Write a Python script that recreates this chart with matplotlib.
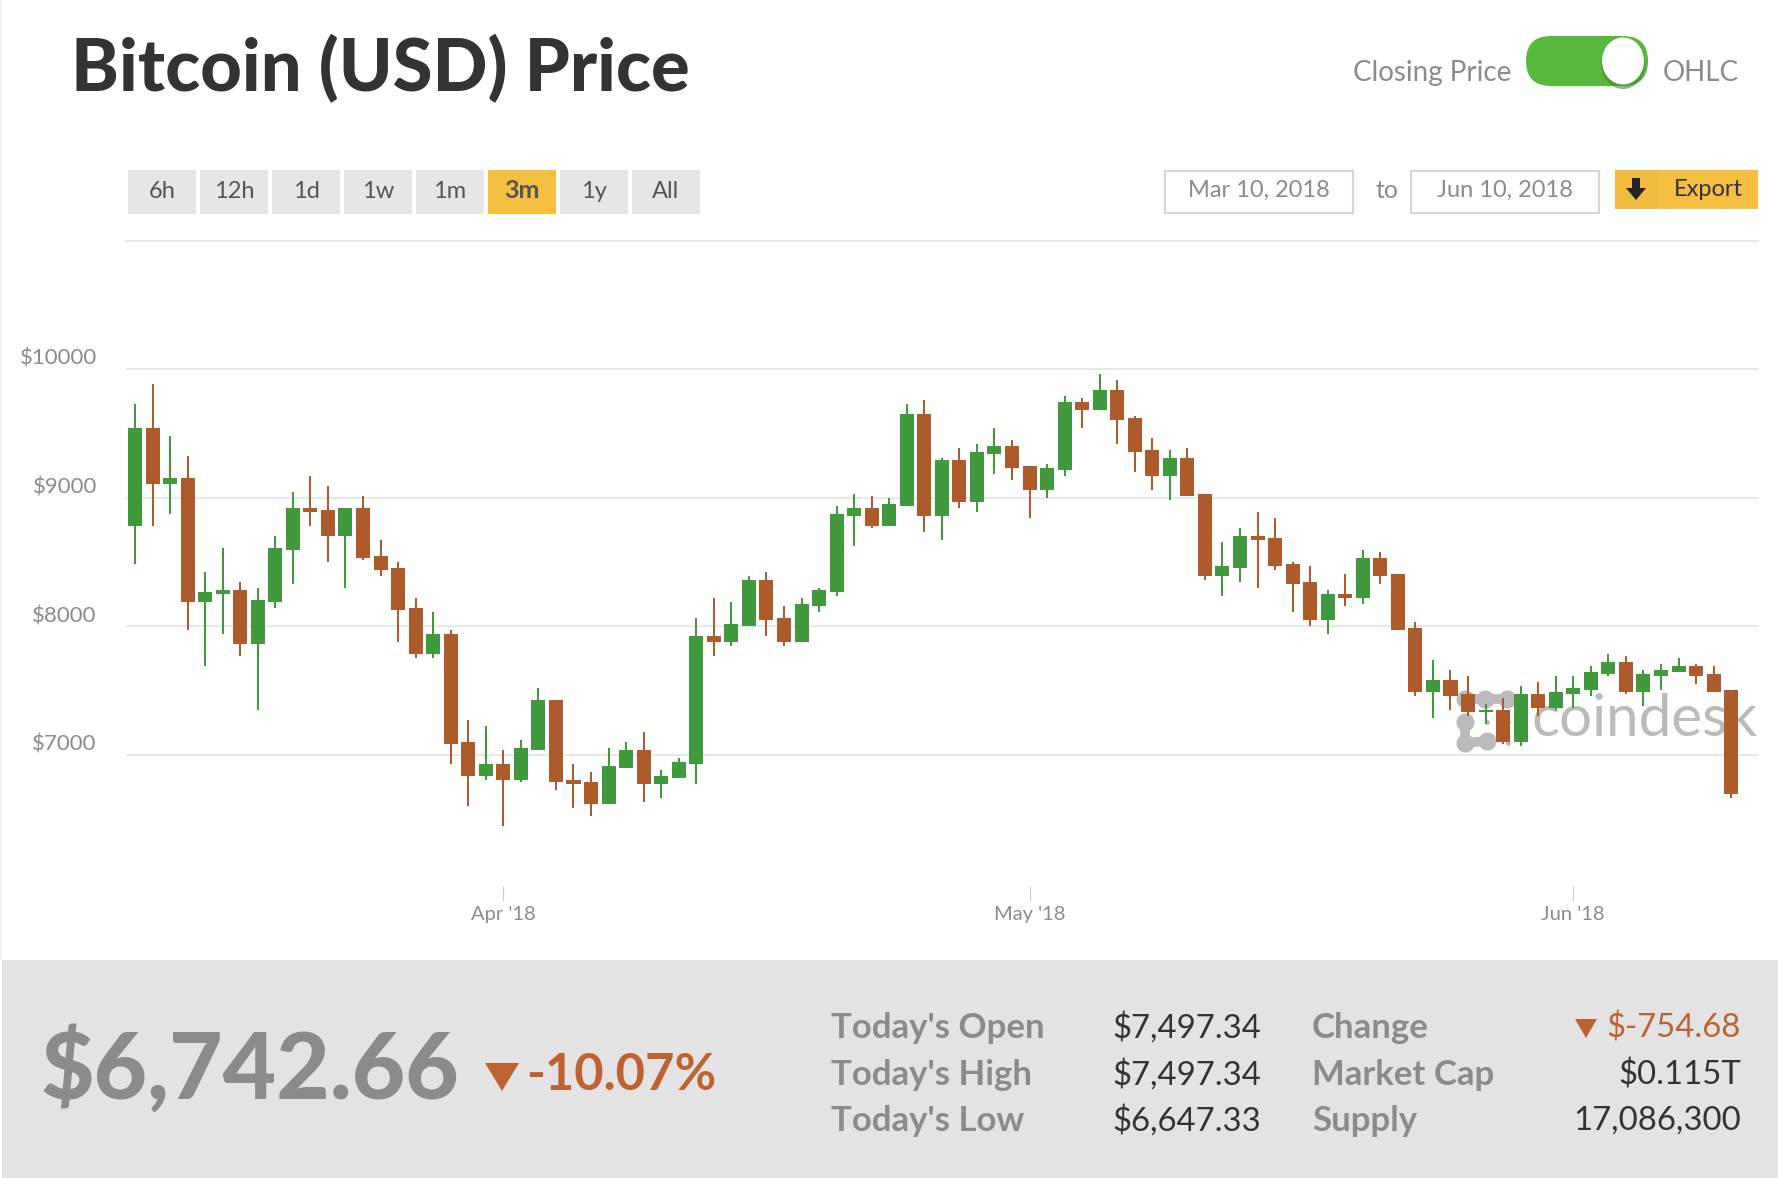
#! /usr/bin/python3

import matplotlib
matplotlib.use("Agg")
import matplotlib.pyplot as plt
import matplotlib.dates as mdates
import matplotlib.transforms as mtrans
from matplotlib.patches import Rectangle, FancyBboxPatch, Polygon, Ellipse
import pandas as pd

plt.rcParams['font.family'] = ['Lato', 'DejaVu Sans']

W, H = 1778, 1178

# daily candles, Mar 11 - Jun 10 2018
opens = [8779, 9541, 9106, 9152, 8188, 8250, 8282, 7862, 8188, 8593, 8919, 8904, 8701, 8919, 8546, 8453,
         8141, 7784, 7939, 7100, 6835, 6929, 6804, 7037, 7426, 6804, 6788, 6617, 6897, 7037, 6773, 6820,
         6929, 7924, 7877, 8002, 8359, 8064, 7877, 8157, 8266, 8857, 8919, 8779, 8935, 9650, 8857, 9292,
         8966, 9339, 9401, 9246, 9059, 9215, 9743, 9681, 9837, 9619, 9370, 9168, 9308, 9028, 8390, 8453,
         8701, 8686, 8484, 8344, 8048, 8250, 8219, 8530, 8406, 7986, 7488, 7582, 7473, 7333, 7348, 7100,
         7473, 7364, 7473, 7504, 7628, 7722, 7488, 7613, 7644, 7690, 7628, 7504]
closes = [9541, 9106, 9152, 8188, 8266, 8282, 7862, 8204, 8608, 8919, 8888, 8701, 8919, 8530, 8437, 8126,
          7784, 7939, 7084, 6835, 6929, 6804, 7053, 7426, 6788, 6773, 6617, 6913, 7037, 6773, 6835, 6944,
          7924, 7877, 8017, 8359, 8048, 7877, 8173, 8282, 8872, 8919, 8779, 8950, 9650, 8857, 9292, 8966,
          9355, 9401, 9230, 9059, 9230, 9743, 9681, 9837, 9603, 9355, 9168, 9308, 9012, 8390, 8468, 8701,
          8670, 8468, 8328, 8048, 8250, 8219, 8530, 8390, 7970, 7488, 7582, 7457, 7333, 7348, 7100, 7473,
          7364, 7488, 7519, 7644, 7722, 7488, 7628, 7659, 7690, 7613, 7488, 6695]
highs = [9728, 9883, 9479, 9323, 8421, 8608, 8344, 8297, 8701, 9043, 9168, 9090, 8919, 9012, 8670, 8499,
         8219, 8110, 7970, 7271, 7224, 7037, 7115, 7519, 7426, 6929, 6866, 7053, 7100, 7177, 6882, 6975,
         8064, 8219, 8188, 8390, 8421, 8157, 8219, 8297, 8935, 9028, 9012, 8997, 9728, 9759, 9308, 9386,
         9417, 9541, 9448, 9246, 9261, 9790, 9774, 9961, 9914, 9634, 9463, 9370, 9386, 9028, 8655, 8764,
         8888, 8841, 8499, 8468, 8282, 8406, 8593, 8577, 8406, 8033, 7737, 7659, 7613, 7395, 7442, 7535,
         7566, 7613, 7613, 7690, 7784, 7768, 7659, 7706, 7753, 7706, 7690, 7504]
lows = [8484, 8779, 8872, 7970, 7690, 7939, 7768, 7348, 8141, 8328, 8779, 8499, 8297, 8515, 8390, 7877,
        7753, 7753, 6929, 6602, 6804, 6446, 6788, 7037, 6726, 6586, 6524, 6617, 6897, 6633, 6664, 6820,
        6773, 7768, 7846, 8002, 7924, 7846, 7877, 8110, 8235, 8624, 8764, 8779, 8935, 8733, 8670, 8919,
        8888, 9183, 9137, 8841, 8997, 9168, 9541, 9681, 9417, 9199, 9059, 8981, 9012, 8359, 8235, 8344,
        8297, 8437, 8110, 8002, 7939, 8157, 8173, 8328, 7970, 7457, 7286, 7348, 7302, 7240, 7084, 7068,
        7302, 7348, 7364, 7457, 7613, 7473, 7380, 7504, 7644, 7551, 7488, 6664]

y_ticks = [7000, 8000, 9000, 10000]
y_labels = ["$7000", "$8000", "$9000", "$10000"]
x_ticks = ["2018-04-01", "2018-05-01", "2018-06-01"]
x_labels = ["Apr '18", "May '18", "Jun '18"]

range_buttons = ["6h", "12h", "1d", "1w", "1m", "3m", "1y", "All"]
selected_range = "3m"

stat_left = ["Today's Open", "Today's High", "Today's Low"]
stat_left_vals = ["$7,497.34", "$7,497.34", "$6,647.33"]
stat_right = ["Change", "Market Cap", "Supply"]
stat_right_vals = ["$-754.68", "$0.115T", "17,086,300"]

GREEN = "#41993d"
RUST = "#ad5b2a"
GREY = "#8b8b8b"
ORANGE = "#bd6233"
GOLD = "#f5bf42"


def draw_logo(bg, color):
    # blobs of the coindesk mark, partly hidden by the candles
    for seg in [[(1465, 699), (1485, 699), (1507, 699)], [(1465, 722), (1465, 743), (1487, 741)]]:
        xs, ys = zip(*seg)
        bg.plot(xs, ys, color=color, lw=7, marker="o", ms=13, mew=0, solid_capstyle="round")
    bg.plot([1487, 1508, 1508], [722, 722, 743], ls="none", color=color, marker="o", ms=3.5, mew=0)


def draw_chrome(bg):
    bg.add_patch(Rectangle((0, 0), 2, 960, fc="#f4f4f4", ec="none"))
    bg.text(71, 70, "Bitcoin (USD) Price", fontsize=52, fontweight="black", color="#333333", ha="left", va="center")

    bg.text(1511, 73, "Closing Price", fontsize=20, color=GREY, ha="right", va="center")
    bg.text(1663, 73, "OHLC", fontsize=20, color=GREY, ha="left", va="center")
    bg.add_patch(FancyBboxPatch((1526, 36), 122, 50, boxstyle="round,pad=0,rounding_size=25",
                                fc="#56b93c", ec="none"))
    bg.add_patch(Ellipse((1623, 64), 44, 50, fc="#3f8a2c", ec="none", alpha=0.6))
    bg.add_patch(Ellipse((1623, 61), 42, 47, fc="white", ec="none"))

    for i, name in enumerate(range_buttons):
        left = 128 + i * 72
        on = name == selected_range
        bg.add_patch(Rectangle((left, 170), 68, 44, fc=GOLD if on else "#e6e6e6", ec="none"))
        bg.text(left + 34, 191, name, fontsize=18 if on else 17, ha="center", va="center",
                color="#555555", fontweight="bold" if on else "normal")

    for left, label in [(1165, "Mar 10, 2018"), (1411, "Jun 10, 2018")]:
        bg.add_patch(Rectangle((left, 171), 188, 42, fc="white", ec="#d6d6d6", lw=1.5))
        bg.text(left + 94, 190, label, fontsize=17, color=GREY, ha="center", va="center")
    bg.text(1387, 190, "to", fontsize=18, color=GREY, ha="center", va="center")

    bg.add_patch(Rectangle((1615, 170), 143, 39, fc=GOLD, ec="none"))
    bg.add_patch(Rectangle((1615, 170), 43, 39, fc="#f3bb3e", ec="none"))
    bg.add_patch(Polygon([(1632, 178), (1640, 178), (1640, 188), (1646, 188), (1636, 200), (1626, 188), (1632, 188)],
                         fc="#222222", ec="none"))
    bg.text(1708, 190, "Export", fontsize=17, color="#333333", ha="center", va="center")

    bg.plot([126, 1758], [241, 241], color="#e8e8e8", lw=1.44)

    # watermark sits under the candles
    logo = "#bbbbbb"
    draw_logo(bg, logo)
    bg.text(1532, 719, "coindesk", fontsize=42, color=logo, ha="left", va="center")

    bg.add_patch(Rectangle((2, 960), W - 2, H - 960, fc="#e3e3e3", ec="none"))
    bg.text(41, 1070, "$6,742.66", fontsize=66.5, fontweight="black", color=GREY, ha="left", va="center")
    bg.add_patch(Polygon([(485, 1063), (519, 1063), (502, 1091)], fc=ORANGE, ec="none"))
    bg.text(526, 1075, "-10.07%", fontsize=36.5, fontweight="bold", color=ORANGE, ha="left", va="center")

    rows = [1028, 1075, 1121]
    for y, a, b, c, d in zip(rows, stat_left, stat_left_vals, stat_right, stat_right_vals):
        bg.text(831, y, a, fontsize=25, fontweight="bold", color=GREY, ha="left", va="center")
        bg.text(1261, y, b, fontsize=23.7, color="#333333", ha="right", va="center")
        bg.text(1312, y, c, fontsize=25, fontweight="bold", color=GREY, ha="left", va="center")
        bg.text(1741, y, d, fontsize=23.7, color=ORANGE if c == "Change" else "#333333", ha="right", va="center")
    bg.add_patch(Polygon([(1575, 1019), (1597, 1019), (1586, 1038)], fc=ORANGE, ec="none"))


def draw_candles(ax):
    dates = mdates.date2num(pd.date_range("2018-03-11", periods=len(opens)))
    colors = [GREEN if c >= o else RUST for o, c in zip(opens, closes)]
    tops = [max(o, c) for o, c in zip(opens, closes)]
    bottoms = [min(o, c) for o, c in zip(opens, closes)]

    ax.vlines(dates, lows, highs, colors=colors, lw=1.44, zorder=3)
    ax.bar(dates, [t - b for t, b in zip(tops, bottoms)], bottom=bottoms, width=0.8, color=colors, zorder=4)

    px_day = 17.54
    ax.set_xlim(dates[0] - 9 / px_day, dates[0] + (1758 - 135) / px_day)
    ax.set_ylim(5863, 11003)

    ax.set_yticks(y_ticks)
    ax.set_yticklabels(y_labels)
    ax.set_xticks(mdates.date2num(pd.to_datetime(x_ticks)))
    ax.set_xticklabels(x_labels)

    ax.grid(axis="y", color="#e8e8e8", lw=1.44)
    ax.set_axisbelow(True)
    ax.tick_params(axis="y", length=0, pad=21, labelsize=16, labelcolor=GREY)
    ax.tick_params(axis="x", direction="in", length=10.8, width=0.8, color="#cccccc", pad=3.5, labelsize=14.5, labelcolor=GREY)

    # y labels sit just above their gridlines
    shift = mtrans.ScaledTranslation(0, 12 / 100, ax.figure.dpi_scale_trans)
    for lab in ax.get_yticklabels():
        lab.set_transform(lab.get_transform() + shift)

    for s in ax.spines.values():
        s.set_visible(False)


fig = plt.figure(figsize=[W / 100, H / 100], dpi=100)

bg = fig.add_axes([0, 0, 1, 1])
bg.set_xlim(0, W)
bg.set_ylim(H, 0)
bg.axis("off")
draw_chrome(bg)

ax = fig.add_axes([126 / W, 1 - 901 / H, (1758 - 126) / W, (901 - 240) / H])
ax.patch.set_alpha(0)
draw_candles(ax)

fig.savefig("out.png", dpi=100)
